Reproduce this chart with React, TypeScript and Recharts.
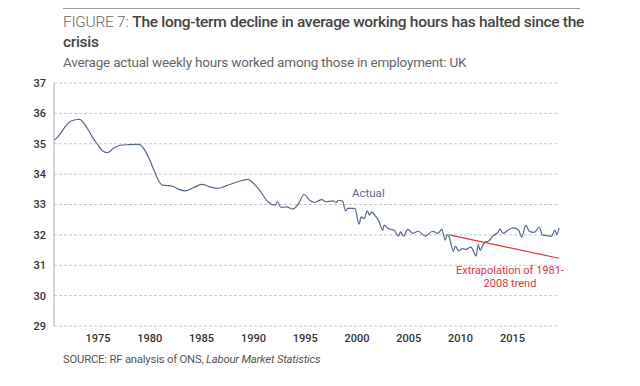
import { CartesianGrid, Line, LineChart, XAxis, YAxis } from "recharts";

const years = [
  1970.8, 1971.3, 1971.8, 1972.4, 1973.2, 1973.8, 1974.4, 1974.9, 1975.4, 1975.9,
  1976.5, 1977.1, 1978.0, 1978.9, 1979.5, 1980.0, 1980.5, 1980.9, 1981.2, 1982.2,
  1982.8, 1983.4, 1984.2, 1985.0, 1985.8, 1986.5, 1987.4, 1988.4, 1989.5, 1990.0,
  1990.6, 1991.4, 1992.1, 1992.3, 1992.7, 1993.2, 1993.8, 1994.3, 1994.9, 1995.5,
  1995.9, 1996.6, 1997.0, 1997.7, 1998.0, 1998.2, 1998.6, 1998.9, 1999.1, 1999.8,
  2000.2, 2000.4, 2000.7, 2001.0, 2001.2, 2001.4, 2001.8, 2002.1, 2002.5, 2002.6,
  2003.0, 2003.6, 2004.0, 2004.2, 2004.5, 2004.9, 2005.4, 2005.9, 2006.6, 2007.3,
  2007.8, 2008.2, 2008.5, 2008.7, 2008.9, 2009.3, 2009.5, 2009.8, 2010.2, 2010.5,
  2011.0, 2011.2, 2011.5, 2011.7, 2011.9, 2012.1, 2012.4, 2012.7, 2013.1, 2013.6,
  2013.8, 2014.1, 2014.6, 2015.1, 2015.6, 2015.9, 2016.3, 2016.6, 2017.1, 2017.6,
  2017.9, 2018.4, 2018.8, 2019.1, 2019.3, 2019.5,
];

const hours = [
  35.12, 35.3, 35.55, 35.75, 35.8, 35.6, 35.25, 35.0, 34.78, 34.71,
  34.85, 34.95, 34.97, 34.98, 34.8, 34.46, 34.05, 33.75, 33.64, 33.6,
  33.5, 33.45, 33.55, 33.66, 33.58, 33.53, 33.62, 33.74, 33.83, 33.7,
  33.47, 33.09, 32.98, 33.09, 32.9, 32.92, 32.85, 33.0, 33.33, 33.12,
  33.07, 33.16, 33.09, 33.12, 33.07, 33.14, 33.11, 32.79, 32.87, 32.87,
  32.35, 32.59, 32.54, 32.79, 32.65, 32.76, 32.61, 32.46, 32.15, 32.32,
  32.21, 32.15, 31.96, 32.1, 31.96, 32.18, 32.05, 32.12, 31.96, 32.12,
  32.05, 32.18, 31.83, 32.01, 31.92, 31.46, 31.63, 31.47, 31.55, 31.52,
  31.6, 31.49, 31.3, 31.68, 31.49, 31.63, 31.77, 31.79, 31.96, 32.08,
  32.19, 32.05, 32.16, 32.23, 32.16, 31.92, 32.32, 32.13, 32.08, 32.26,
  31.99, 31.97, 31.96, 32.16, 32.01, 32.23,
];

const trendYears = [2008.9, 2019.5];
const trendHours = [32.0, 31.23];

const xTicks = [1975, 1980, 1985, 1990, 1995, 2000, 2005, 2010, 2015];
const yTicks = [29, 30, 31, 32, 33, 34, 35, 36, 37];

const actualData = years.map((year, i) => ({ year, hours: hours[i] }));
const trendData = trendYears.map((year, i) => ({ year, trend: trendHours[i] }));

const font = "Roboto, sans-serif";
const blue = "#56688f";
const red = "#e2333f";

export default function App() {
  return (
    <div
      style={{
        position: "absolute",
        left: 0,
        top: 0,
        width: 640,
        height: 386,
        background: "#fff",
        fontFamily: font,
      }}
    >
      <div style={{ position: "absolute", left: 63, top: 8, width: 517, borderTop: "1px solid #999" }} />
      <div
        style={{
          position: "absolute",
          left: 63,
          top: 12,
          fontSize: 15.5,
          lineHeight: "20px",
          color: "#444",
          letterSpacing: -0.3,
          whiteSpace: "nowrap",
        }}
      >
        <div>
          <span style={{ color: "#666", fontWeight: 300, marginRight: 4 }}>FIGURE 7:</span>
          <span style={{ fontWeight: 500 }}>
            The long-term decline in average working hours has halted since the
          </span>
        </div>
        <div style={{ fontWeight: 500 }}>crisis</div>
      </div>
      <div
        style={{
          position: "absolute",
          left: 63,
          top: 54,
          fontSize: 13.5,
          color: "#666",
          letterSpacing: -0.2,
        }}
      >
        Average actual weekly hours worked among those in employment: UK
      </div>

      <LineChart
        width={640}
        height={386}
        data={actualData}
        margin={{ top: 83, right: 81, bottom: 30, left: 24 }}
        style={{ position: "absolute", left: 0, top: 0 }}
      >
        <CartesianGrid vertical={false} stroke="#c8c8c8" strokeDasharray="3 2" />
        <XAxis
          dataKey="year"
          type="number"
          domain={[1970.75, 2019.5]}
          ticks={xTicks}
          axisLine={false}
          tickLine={false}
          height={30}
          tick={{ fill: "#333", fontSize: 11, fontFamily: font, fontWeight: 500 }}
        />
        <YAxis
          type="number"
          domain={[29, 37]}
          ticks={yTicks}
          width={30}
          axisLine={{ stroke: "#aaa" }}
          tickLine={false}
          tick={{ fill: "#333", fontSize: 11, fontFamily: font, fontWeight: 500 }}
        />
        <Line
          type="monotone"
          dataKey="hours"
          stroke={blue}
          strokeWidth={1.2}
          dot={false}
          isAnimationActive={false}
        />
        <Line
          data={trendData}
          type="linear"
          dataKey="trend"
          stroke={red}
          strokeWidth={1.2}
          dot={false}
          isAnimationActive={false}
        />
      </LineChart>

      <div style={{ position: "absolute", left: 352, top: 186, fontSize: 11.5, color: blue }}>Actual</div>
      <div
        style={{
          position: "absolute",
          left: 455,
          top: 264,
          width: 110,
          textAlign: "center",
          fontSize: 11,
          lineHeight: "13px",
          color: red,
        }}
      >
        Extrapolation of 1981-
        <br />
        2008 trend
      </div>

      <div
        style={{
          position: "absolute",
          left: 63,
          top: 353,
          fontSize: 11.3,
          color: "#555",
          letterSpacing: -0.2,
        }}
      >
        SOURCE: RF analysis of ONS, <i>Labour Market Statistics</i>
      </div>
    </div>
  );
}
